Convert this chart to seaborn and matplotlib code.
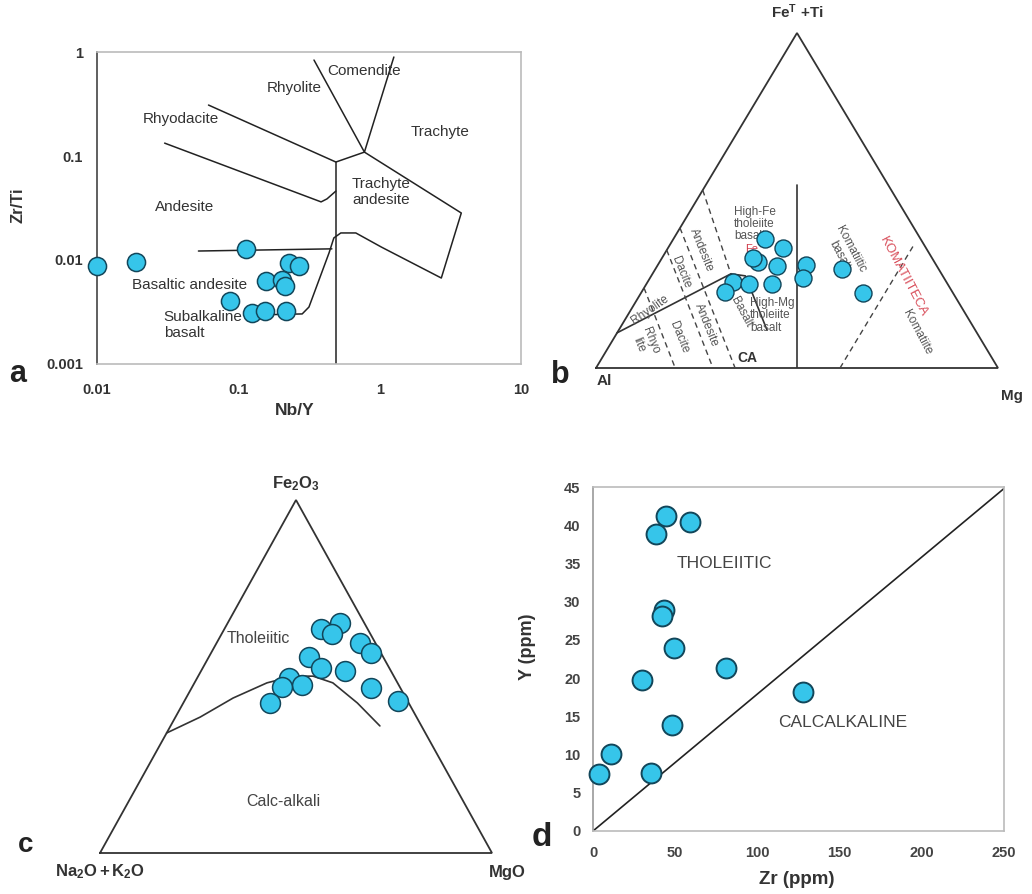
import matplotlib
matplotlib.use("Agg")
import matplotlib.pyplot as plt
import numpy as np
import pandas as pd
import seaborn as sns

# ---------------- a : Nb/Y vs Zr/Ti ----------------
nb_y = [0.010, 0.019, 0.114, 0.229, 0.269, 0.157, 0.204, 0.214, 0.087, 0.124, 0.155, 0.218]
zr_ti = [0.0088, 0.0096, 0.0128, 0.0094, 0.0088, 0.0063, 0.0064, 0.0056, 0.0040, 0.0031, 0.0032, 0.0032]

# field boundaries (Nb/Y, Zr/Ti)
a_rhyodacite_x = [0.0615, 0.49, 0.78]
a_rhyodacite_y = [0.309, 0.0875, 0.109]
a_rhyolite_x = [0.343, 0.78, 1.26]
a_rhyolite_y = [0.837, 0.109, 0.895]
a_trachyte_x = [0.78, 3.78, 2.73, 1.03, 0.678, 0.531, 0.474, 0.438, 0.316, 0.283, 0.130]
a_trachyte_y = [0.109, 0.0283, 0.00671, 0.0133, 0.0182, 0.0182, 0.0163, 0.01167, 0.00353, 0.00303, 0.00296]
a_andesite_x = [0.0301, 0.385, 0.424, 0.49]
a_andesite_y = [0.133, 0.0362, 0.0387, 0.046]
a_vert_x = [0.49, 0.49]
a_vert_y = [0.0875, 0.001]
a_horiz_x = [0.0522, 0.459]
a_horiz_y = [0.0122, 0.0128]

a_labels = ["Comendite", "Rhyolite", "Rhyodacite", "Trachyte", "Trachyte\nandesite",
            "Andesite", "Basaltic andesite", "Subalkaline\nbasalt"]
a_label_x = [0.424, 0.248, 0.0391, 2.69, 0.636, 0.0417, 0.0176, 0.0297]
a_label_y = [0.656, 0.450, 0.227, 0.170, 0.0451, 0.0323, 0.00575, 0.00237]
a_label_ha = ["left", "center", "center", "center", "left", "center", "left", "left"]
a_xticks = [0.01, 0.1, 1, 10]
a_xticklabels = ["0.01", "0.1", "1", "10"]
a_yticks = [0.001, 0.01, 0.1, 1]
a_yticklabels = ["0.001", "0.01", "0.1", "1"]

# ---------------- b : Jensen cation plot (Al, Fe+Ti, Mg) ----------------
b_al = [38.7, 35.6, 43.9, 44.5, 39.8, 32.4, 35.0, 24.0, 22.4, 53.1, 56.6, 49.4, 43.7]
b_fe = [38.5, 35.8, 31.6, 32.8, 30.4, 30.7, 26.9, 29.6, 22.4, 25.7, 22.7, 25.1, 25.1]
b_mg = [22.8, 28.6, 24.5, 22.7, 29.8, 36.9, 38.1, 46.4, 55.2, 21.2, 20.7, 25.5, 31.2]

b_ca_al = [89.5, 52.4, 49.1, 51.8]
b_ca_fe = [10.5, 28.1, 27.5, 11.3]
b_ca_mg = [0.0, 19.5, 23.4, 36.9]
b_vert_al = [50.0, 22.7]
b_vert_fe = [0.0, 54.6]
b_vert_mg = [50.0, 22.7]
b_dash_al = [[76.1, 80.3], [64.8, 70.9], [58.2, 65.4], [46.9, 52.4], [39.3, 2.0]]
b_dash_fe = [[23.9, 0.0], [35.2, 0.0], [41.8, 0.0], [53.1, 28.1], [0.0, 37.3]]
b_dash_mg = [[0.0, 19.7], [0.0, 29.1], [0.0, 34.6], [0.0, 19.5], [60.7, 60.7]]

# ---------------- c : AFM ----------------
c_alk = [11.9, 6.2, 9.8, 3.9, 2.5, 18.9, 17.4, 11.7, 27.0, 24.7, 30.1, 35.3, 7.5, 2.4]
c_fe = [63.5, 65.2, 62.0, 59.5, 56.7, 55.5, 52.4, 51.6, 49.6, 47.6, 47.0, 42.5, 46.7, 43.1]
c_mg = [24.6, 28.6, 28.2, 36.6, 40.8, 25.6, 30.2, 36.7, 23.4, 27.7, 22.9, 22.2, 45.8, 54.5]

ib_alk = [66.0, 55.2, 44.1, 33.3, 25.7, 20.6, 16.5, 13.1, 10.6]
ib_fe = [34.0, 38.5, 43.9, 48.2, 50.1, 50.1, 48.2, 42.5, 36.0]
ib_mg = [0.0, 6.3, 12.0, 18.5, 24.2, 29.3, 35.3, 44.4, 53.4]

# ---------------- d : Zr vs Y ----------------
zr = [44.6, 59.3, 38.6, 43.2, 42.2, 49.5, 81.2, 30.0, 127.8, 48.1, 11.2, 3.7, 35.1]
y_ppm = [41.2, 40.4, 38.8, 28.9, 28.1, 24.0, 21.3, 19.7, 18.2, 13.9, 10.1, 7.5, 7.6]
d_line_zr = [0, 250]
d_line_y = [0, 44.8]

FILL = "#36C5EA"
EDGE = "#12465A"
TXT = "#333333"

sns.set_style("white")
plt.rcParams["font.family"] = ["Liberation Sans", "DejaVu Sans"]
plt.rcParams["mathtext.fontset"] = "custom"
plt.rcParams["mathtext.rm"] = "Liberation Sans"
plt.rcParams["mathtext.bf"] = "Liberation Sans:bold"
plt.rcParams["mathtext.it"] = "Liberation Sans:italic"


def tern_xy(left, top, right):
    left, top, right = (np.asarray(v, dtype=float) for v in (left, top, right))
    s = left + top + right
    t = top / s
    r = right / s
    return r + t / 2, t


def draw_triangle(ax):
    tx, ty = tern_xy([100, 0, 0, 100], [0, 100, 0, 0], [0, 0, 100, 0])
    ax.plot(tx, ty, color="#333333", lw=1.3, solid_joinstyle="miter", clip_on=False)
    ax.set_xlim(0, 1)
    ax.set_ylim(0, 1)
    ax.axis("off")


fig = plt.figure(figsize=(10.32, 8.94), dpi=100)
W, H = 1032, 894


def px_axes(l, t, r, b):
    return fig.add_axes([l / W, 1 - b / H, (r - l) / W, (b - t) / H])


# ===== panel a =====
ax = px_axes(97, 52, 521, 364)
ax.set_xscale("log")
ax.set_yscale("log")
line_kw = dict(color="#222222", lw=1.1)
for xs, ys in [(a_rhyodacite_x, a_rhyodacite_y), (a_rhyolite_x, a_rhyolite_y),
               (a_trachyte_x, a_trachyte_y), (a_andesite_x, a_andesite_y),
               (a_vert_x, a_vert_y), (a_horiz_x, a_horiz_y)]:
    ax.plot(xs, ys, **line_kw)
for lab, x, y, ha in zip(a_labels, a_label_x, a_label_y, a_label_ha):
    ax.text(x, y, lab, ha=ha, va="center", fontsize=11, color=TXT, linespacing=1.25, zorder=2)
df_a = pd.DataFrame({"Nb/Y": nb_y, "Zr/Ti": zr_ti})
sns.scatterplot(data=df_a, x="Nb/Y", y="Zr/Ti", ax=ax, s=170, color=FILL,
                edgecolor=EDGE, linewidth=1.1, zorder=5, clip_on=False)
ax.set_xlim(0.01, 10)
ax.set_ylim(0.001, 1)
ax.set_xticks(a_xticks)
ax.set_xticklabels(a_xticklabels)
ax.set_yticks(a_yticks)
ax.set_yticklabels(a_yticklabels)
ax.minorticks_off()
ax.tick_params(axis="both", which="major", length=4, width=1, color="#777777",
               labelsize=10.5, labelcolor=TXT, direction="out")
ax.tick_params(axis="x", pad=10)
ax.tick_params(axis="y", pad=6)
for lab in ax.get_xticklabels() + ax.get_yticklabels():
    lab.set_fontweight("bold")
ax.set_xlabel("")
ax.set_ylabel("")
for side in ["top", "right", "bottom"]:
    ax.spines[side].set_color("#bbbbbb")
ax.spines["left"].set_color("#444444")
for sp in ax.spines.values():
    sp.set_linewidth(1.2)
fig.text(18 / W, 1 - 205 / H, "Zr/Ti", rotation=90, ha="center", va="center",
         fontsize=12, fontweight="bold", color=TXT)
fig.text(295 / W, 1 - 410 / H, "Nb/Y", ha="center", va="center",
         fontsize=12.5, fontweight="bold", color=TXT)
fig.text(18 / W, 1 - 374 / H, "a", ha="center", va="center", fontsize=22,
         fontweight="bold", color="#222222")

# ===== panel b =====
ax = px_axes(596, 33, 998, 368)
draw_triangle(ax)
x, y = tern_xy(b_ca_al, b_ca_fe, b_ca_mg)
ax.plot(x, y, color="#333333", lw=1.2)
x, y = tern_xy(b_vert_al, b_vert_fe, b_vert_mg)
ax.plot(x, y, color="#333333", lw=1.2)
for al, fe, mg in zip(b_dash_al, b_dash_fe, b_dash_mg):
    x, y = tern_xy(al, fe, mg)
    ax.plot(x, y, color="#444444", lw=1.0, ls=(0, (4, 3)))
small = dict(fontsize=8.5, color="#555555", ha="center", va="center", linespacing=1.05)
ax.text(0.343, 0.43, "High-Fe\ntholeiite\nbasalt", **{**small, "ha": "left"})
ax.text(0.383, 0.158, "High-Mg\ntholeiite\nbasalt", **{**small, "ha": "left"})
ax.text(0.388, 0.355, "Fe", fontsize=8, color="#d03a4a", ha="center", va="center")
ax.text(0.262, 0.352, "Andesite", rotation=-68, **small)
ax.text(0.212, 0.287, "Dacite", rotation=-68, **small)
ax.text(0.134, 0.173, "Rhyolite", rotation=35, **small)
ax.text(0.122, 0.075, "Rhyo\nlite", rotation=-68, **small)
ax.text(0.207, 0.093, "Dacite", rotation=-68, **small)
ax.text(0.274, 0.128, "Andesite", rotation=-68, **small)
ax.text(0.362, 0.167, "Basalt", rotation=-62, **small)
ax.text(0.619, 0.346, "Komatiitic\nbasalt", rotation=-62, **small)
ax.text(0.764, 0.272, "KOMATIITECA", rotation=-62, fontsize=9.5, color="#d9505c",
        ha="center", va="center")
ax.text(0.799, 0.107, "Komatiite", rotation=-62, **small)
ax.text(0.376, 0.03, "CA", fontsize=10, fontweight="bold", color=TXT, ha="center", va="center")
x, y = tern_xy(b_al, b_fe, b_mg)
df_b = pd.DataFrame({"x": x, "y": y})
sns.scatterplot(data=df_b, x="x", y="y", ax=ax, s=150, color=FILL,
                edgecolor=EDGE, linewidth=1.0, zorder=5, clip_on=False)
ax.set_xlabel("")
ax.set_ylabel("")
ax.text(0.5, 1.063, r"Fe$^{\mathbf{T}}$ +Ti", ha="center", va="center", fontsize=11,
        fontweight="bold", color=TXT)
ax.text(0.02, -0.039, "Al", ha="center", va="center", fontsize=11, fontweight="bold", color=TXT)
ax.text(1.035, -0.084, "Mg", ha="center", va="center", fontsize=11, fontweight="bold", color=TXT)
ax.text(-0.09, -0.02, "b", ha="center", va="center", fontsize=22, fontweight="bold", color="#222222")

# ===== panel c =====
ax = px_axes(100, 500, 492, 853)
draw_triangle(ax)
x, y = tern_xy(ib_alk, ib_fe, ib_mg)
ax.plot(x, y, color="#333333", lw=1.2)
ax.text(0.403, 0.609, "Tholeiitic", fontsize=11.5, color="#444444", ha="center", va="center")
ax.text(0.467, 0.147, "Calc-alkali", fontsize=11.5, color="#444444", ha="center", va="center")
x, y = tern_xy(c_alk, c_fe, c_mg)
df_c = pd.DataFrame({"x": x, "y": y})
sns.scatterplot(data=df_c, x="x", y="y", ax=ax, s=205, color=FILL,
                edgecolor=EDGE, linewidth=1.1, zorder=5, clip_on=False)
ax.set_xlabel("")
ax.set_ylabel("")
ax.text(0.5, 1.045, r"$\mathbf{Fe_2O_3}$", ha="center", va="center", fontsize=12, color=TXT)
ax.text(0.0, -0.054, r"$\mathbf{Na_2O + K_2O}$", ha="center", va="center", fontsize=12, color=TXT)
ax.text(1.04, -0.054, "MgO", ha="center", va="center", fontsize=12, fontweight="bold", color=TXT)
ax.text(-0.191, 0.023, "c", ha="center", va="center", fontsize=20, fontweight="bold", color="#222222")

# ===== panel d =====
ax = px_axes(593, 487, 1004, 831)
ax.plot(d_line_zr, d_line_y, color="#222222", lw=1.2)
df_d = pd.DataFrame({"Zr (ppm)": zr, "Y (ppm)": y_ppm})
sns.scatterplot(data=df_d, x="Zr (ppm)", y="Y (ppm)", ax=ax, s=205, color=FILL,
                edgecolor=EDGE, linewidth=1.4, zorder=5, clip_on=False)
ax.text(80, 35, "THOLEIITIC", fontsize=12.5, color="#444444", ha="center", va="center")
ax.text(152, 14.2, "CALCALKALINE", fontsize=12.5, color="#444444", ha="center", va="center")
ax.set_xlim(0, 250)
ax.set_ylim(0, 45)
ax.set_xticks(range(0, 251, 50))
ax.set_yticks(range(0, 46, 5))
ax.tick_params(axis="both", length=3, width=1, color="#999999", labelsize=10.5,
               labelcolor="#444444", direction="out")
ax.tick_params(axis="x", pad=8)
ax.tick_params(axis="y", pad=6)
for lab in ax.get_xticklabels() + ax.get_yticklabels():
    lab.set_fontweight("bold")
ax.set_xlabel("")
ax.set_ylabel("")
for sp in ax.spines.values():
    sp.set_color("#bbbbbb")
    sp.set_linewidth(1.2)
ax.spines["left"].set_color("#999999")
fig.text(527 / W, 1 - 647 / H, "Y (ppm)", rotation=90, ha="center", va="center",
         fontsize=13, fontweight="bold", color=TXT)
fig.text(797 / W, 1 - 880 / H, "Zr (ppm)", ha="center", va="center",
         fontsize=13.5, fontweight="bold", color=TXT)
fig.text(542 / W, 1 - 838 / H, "d", ha="center", va="center", fontsize=24,
         fontweight="bold", color="#222222")

fig.savefig("out.png", dpi=100, facecolor="white")
